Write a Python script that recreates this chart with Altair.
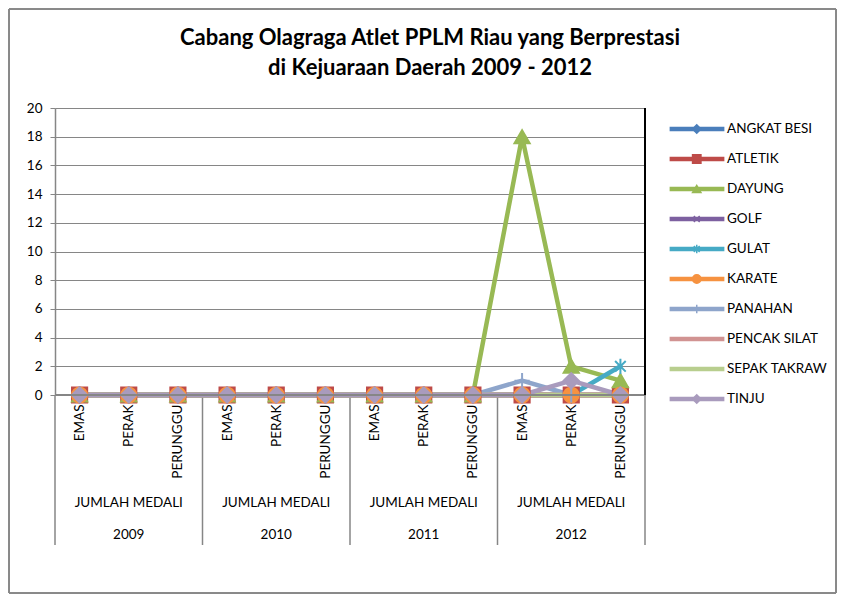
import altair as alt
import pandas as pd

title_lines = ["Cabang Olagraga Atlet PPLM  Riau yang Berprestasi",
               "di Kejuaraan Daerah 2009 - 2012"]

years = ["2009", "2010", "2011", "2012"]
medals = ["EMAS", "PERAK", "PERUNGGU"]
group_label = "JUMLAH MEDALI"

series = ["ANGKAT BESI", "ATLETIK", "DAYUNG", "GOLF", "GULAT", "KARATE",
          "PANAHAN", "PENCAK SILAT", "SEPAK TAKRAW", "TINJU"]
colors = ["#4A7EBB", "#BE4B48", "#98B954", "#7D60A0", "#46AAC5", "#F69240",
          "#8EA5CB", "#D19392", "#B8CE8E", "#A99BBD"]

angkat_besi  = [0, 0, 0, 0, 0, 0, 0, 0, 0, 0, 0, 0]
atletik      = [0, 0, 0, 0, 0, 0, 0, 0, 0, 0, 0, 0]
dayung       = [0, 0, 0, 0, 0, 0, 0, 0, 0, 18, 2, 1]
golf         = [0, 0, 0, 0, 0, 0, 0, 0, 0, 0, 0, 0]
gulat        = [0, 0, 0, 0, 0, 0, 0, 0, 0, 0, 0, 2]
karate       = [0, 0, 0, 0, 0, 0, 0, 0, 0, 0, 0, 0]
panahan      = [0, 0, 0, 0, 0, 0, 0, 0, 0, 1, 0, 0]
pencak_silat = [0, 0, 0, 0, 0, 0, 0, 0, 0, 0, 0, 0]
sepak_takraw = [0, 0, 0, 0, 0, 0, 0, 0, 0, 0, 0, 0]
tinju        = [0, 0, 0, 0, 0, 0, 0, 0, 0, 0, 1, 0]

all_values = [angkat_besi, atletik, dayung, golf, gulat, karate,
              panahan, pencak_silat, sepak_takraw, tinju]

# marker per series (empty path = no marker)
marker_shapes = ["diamond", "square", "triangle-up",
                 "M-0.7,-0.7L0.7,0.7M-0.7,0.7L0.7,-0.7",
                 "M-0.7,-0.7L0.7,0.7M-0.7,0.7L0.7,-0.7M0,-1L0,1",
                 "circle", "M0,-1L0,1M-1,0L1,0", "M0,0", "M0,0", "diamond"]

FONT = "Lato"

rows = []
for s, vals in zip(series, all_values):
    for i, v in enumerate(vals):
        rows.append({"series": s, "mk": s, "idx": i + 0.5,
                     "year": years[i // 3], "medal": medals[i % 3], "value": v})
df = pd.DataFrame(rows)

grp = pd.DataFrame({"year": years, "center": [1.5, 4.5, 7.5, 10.5],
                    "label": [group_label] * 4})
seps = pd.DataFrame({"b": [0, 3, 6, 9, 12]})
t1 = pd.DataFrame({"t": [title_lines[0]]})
t2 = pd.DataFrame({"t": [title_lines[1]]})

W, H = 590, 287

xscale = alt.Scale(domain=[0, 12], nice=False, zero=False)
yscale = alt.Scale(domain=[0, 20], nice=False)
cscale = alt.Scale(domain=series, range=colors)

x_axis = alt.Axis(values=[i + 0.5 for i in range(12)],
                  labelExpr="['EMAS','PERAK','PERUNGGU'][floor(datum.value) % 3]",
                  labelAngle=-90, labelFontSize=13.5, labelFont=FONT,
                  labelColor="#000", ticks=False, domain=False,
                  grid=False, labelPadding=9, title=None,
                  labelOverlap=False)
y_axis = alt.Axis(values=list(range(0, 21, 2)), tickCount=11,
                  labelFontSize=13.5, labelFont=FONT, labelColor="#000",
                  tickSize=5, tickColor="#868686", domainColor="#868686",
                  domainWidth=1.5, gridColor="#868686", labelPadding=8,
                  title=None, labelOverlap=False, labelFlush=False)

x_enc = alt.X("idx:Q", scale=xscale, axis=x_axis)
y_enc = alt.Y("value:Q", scale=yscale, axis=y_axis)

lines = alt.Chart(df).mark_line(strokeWidth=4.5, strokeJoin="round",
                                strokeCap="round").encode(
    x=x_enc, y=y_enc,
    color=alt.Color("series:N", scale=cscale, sort=series,
                    legend=alt.Legend(title=None, orient="none", legendX=612,
                                      legendY=8, symbolType="stroke",
                                      symbolSize=3000, symbolStrokeWidth=4.5,
                                      labelFontSize=13.5, labelFont=FONT,
                                      labelColor="#000", clipHeight=26,
                                      rowPadding=4, labelOffset=0)),
    order="idx:Q")

mk_legend = alt.Legend(title=None, orient="none", legendX=635, legendY=8,
                       symbolSize=70, symbolStrokeWidth=1.5, labelExpr="''",
                       labelFontSize=13.5, clipHeight=26, rowPadding=4)

points = alt.Chart(df).mark_point(filled=True, size=230, strokeWidth=2,
                                  opacity=1).encode(
    x=x_enc, y=y_enc,
    fill=alt.Fill("mk:N", scale=alt.Scale(range=colors), legend=mk_legend),
    stroke=alt.Stroke("mk:N", scale=alt.Scale(range=colors), legend=mk_legend),
    shape=alt.Shape("mk:N", scale=alt.Scale(range=marker_shapes),
                    legend=mk_legend),
)

sep_rules = alt.Chart(seps).mark_rule(color="#868686", strokeWidth=1.5).encode(
    x=alt.X("b:Q", scale=xscale, axis=x_axis), y=alt.value(H),
    y2=alt.value(H + 150))

base_rule = alt.Chart(seps).mark_rule(color="#868686", strokeWidth=2).encode(
    x=alt.value(0), x2=alt.value(W), y=alt.value(H))

right_rule = alt.Chart(seps).mark_rule(color="#000", strokeWidth=1.5).encode(
    x=alt.value(W), y=alt.value(0), y2=alt.value(H))

grp_text = alt.Chart(grp).mark_text(fontSize=13.5, font=FONT, color="#000").encode(
    x=alt.X("center:Q", scale=xscale, axis=x_axis), y=alt.value(H + 108),
    text="label:N")

year_text = alt.Chart(grp).mark_text(fontSize=13.5, font=FONT, color="#000").encode(
    x=alt.X("center:Q", scale=xscale, axis=x_axis), y=alt.value(H + 140),
    text="year:N")

title1 = alt.Chart(t1).mark_text(fontSize=22, font=FONT, fontWeight="bold",
                                 color="#000").encode(
    x=alt.value(375), y=alt.value(-70), text="t:N")
title2 = alt.Chart(t2).mark_text(fontSize=22, font=FONT, fontWeight="bold",
                                 color="#000").encode(
    x=alt.value(375), y=alt.value(-40), text="t:N")

frame = alt.Chart(seps).mark_rect(fill=None, stroke="#868686", strokeWidth=1).encode(
    x=alt.value(-46), x2=alt.value(781), y=alt.value(-99), y2=alt.value(485))

chart = alt.layer(frame, sep_rules, lines, points, base_rule, right_rule,
                  grp_text, year_text, title1, title2).properties(
    width=W, height=H,
    padding={"left": 47, "top": 100, "right": 192, "bottom": 199},
    autosize=alt.AutoSizeParams(type="none"),
).configure_view(stroke=None).configure(background="white")

chart.save("out.html", embed_options={"renderer": "svg", "actions": False})
